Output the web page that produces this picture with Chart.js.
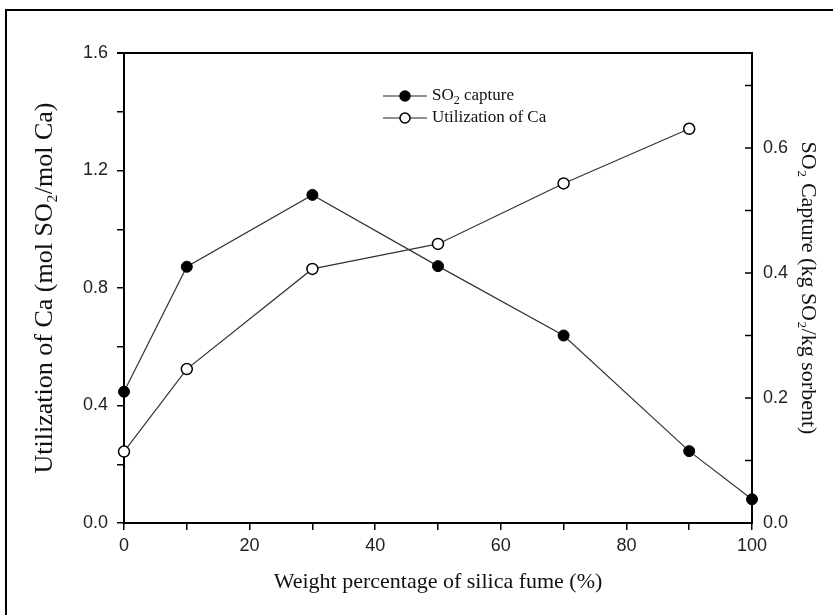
<!DOCTYPE html>
<html>
<head>
<meta charset="utf-8">
<script src="https://cdn.jsdelivr.net/npm/chart.js@4/dist/chart.umd.min.js"></script>
<style>
  html, body { margin: 0; padding: 0; background: #fff; overflow: hidden; }
  #wrap { position: relative; width: 833px; height: 615px; }
  #frame { position: absolute; left: 5px; top: 9px; width: 1000px; height: 1000px; border: 2px solid #000; box-sizing: border-box; pointer-events: none; }
  canvas { position: absolute; left: 0; top: 0; }
</style>
</head>
<body>
<div id="wrap">
  <div id="frame"></div>
  <canvas id="chart" width="833" height="615"></canvas>
</div>
<script>
// silica fume content (%)
const silicaSO2 = [0, 10, 30, 50, 70, 90, 100];
const so2Capture = [0.210, 0.410, 0.525, 0.411, 0.300, 0.115, 0.038]; // kg SO2 / kg sorbent
const silicaCa = [0, 10, 30, 50, 70, 90];
const caUtil = [0.243, 0.524, 0.865, 0.950, 1.156, 1.342]; // mol SO2 / mol Ca

const xTicks = [0, 10, 20, 30, 40, 50, 60, 70, 80, 90, 100];
const yTicks = [0, 0.2, 0.4, 0.6, 0.8, 1.0, 1.2, 1.4, 1.6];
const y2Ticks = [0, 0.1, 0.2, 0.3, 0.4, 0.5, 0.6, 0.7];

const tickFont = { family: "'Liberation Sans', Arial, sans-serif", size: 18 };
const serif = "'Liberation Serif', 'Times New Roman', serif";

const toPoints = (xs, ys) => xs.map((x, i) => ({ x: x, y: ys[i] }));
const setTicks = (arr) => (scale) => { scale.ticks = arr.map((v) => ({ value: v })); };
const isMajor = (v, step) => Math.abs(v / step - Math.round(v / step)) < 1e-6;

// top frame line, inward ticks on the right axis and the legend
const extras = {
  id: 'extras',
  afterDraw(chart) {
    const { ctx, chartArea } = chart;
    const y2 = chart.scales.y2;
    ctx.save();
    ctx.strokeStyle = '#000';
    ctx.lineWidth = 2;
    ctx.beginPath();
    ctx.moveTo(chartArea.left - 7, chartArea.top);
    ctx.lineTo(chartArea.right + 1, chartArea.top);
    ctx.stroke();

    ctx.lineWidth = 1.5;
    y2.ticks.forEach((t) => {
      const py = y2.getPixelForValue(t.value);
      ctx.beginPath();
      ctx.moveTo(chartArea.right - 7, py);
      ctx.lineTo(chartArea.right, py);
      ctx.stroke();
    });

    const rows = [
      { y: 96, fill: '#000', parts: [['SO', 0], ['2', 1], [' capture', 0]] },
      { y: 118, fill: '#fff', parts: [['Utilization of Ca', 0]] }
    ];
    rows.forEach((r) => {
      ctx.strokeStyle = '#222';
      ctx.lineWidth = 1.2;
      ctx.beginPath();
      ctx.moveTo(383, r.y);
      ctx.lineTo(427, r.y);
      ctx.stroke();
      ctx.beginPath();
      ctx.arc(405, r.y, 5, 0, Math.PI * 2);
      ctx.fillStyle = r.fill;
      ctx.fill();
      ctx.lineWidth = 1.5;
      ctx.strokeStyle = '#000';
      ctx.stroke();
      let x = 432;
      ctx.fillStyle = '#111';
      ctx.textBaseline = 'middle';
      r.parts.forEach(([txt, sub]) => {
        ctx.font = (sub ? '12px ' : '17px ') + serif;
        ctx.fillText(txt, x, r.y + (sub ? 5 : 0));
        x += ctx.measureText(txt).width;
      });
    });
    ctx.restore();
  }
};

new Chart(document.getElementById('chart'), {
  type: 'line',
  data: {
    datasets: [
      {
        label: 'SO2 capture',
        data: toPoints(silicaSO2, so2Capture),
        yAxisID: 'y2',
        borderColor: '#333',
        borderWidth: 1.2,
        pointRadius: 5.5,
        pointBackgroundColor: '#000',
        pointBorderColor: '#000',
        pointBorderWidth: 1,
        tension: 0,
        clip: false
      },
      {
        label: 'Utilization of Ca',
        data: toPoints(silicaCa, caUtil),
        yAxisID: 'y',
        borderColor: '#333',
        borderWidth: 1.2,
        pointRadius: 5.5,
        pointBackgroundColor: '#fff',
        pointBorderColor: '#000',
        pointBorderWidth: 1.5,
        tension: 0,
        clip: false
      }
    ]
  },
  options: {
    responsive: false,
    animation: false,
    layout: { padding: { top: 53, left: 0, right: 0, bottom: 0 } },
    plugins: { legend: { display: false }, tooltip: { enabled: false } },
    scales: {
      x: {
        type: 'linear',
        min: 0,
        max: 100,
        afterBuildTicks: setTicks(xTicks),
        afterFit: (s) => { s.height = 92; },
        grid: { drawOnChartArea: false, drawTicks: true, tickLength: 7, color: '#000', lineWidth: 1.5 },
        border: { color: '#000', width: 2 },
        ticks: { font: tickFont, color: '#222', padding: 5, maxRotation: 0, autoSkip: false,
          callback: (v) => (isMajor(v, 20) ? String(v) : '') },
        title: { display: true, text: 'Weight percentage of silica fume (%)', color: '#111',
          font: { family: serif, size: 22 }, padding: { top: 0, bottom: 20 } }
      },
      y: {
        position: 'left',
        min: 0,
        max: 1.6,
        afterBuildTicks: setTicks(yTicks),
        afterFit: (s) => { s.width = 124; },
        grid: { drawOnChartArea: false, drawTicks: true, tickLength: 7, color: '#000', lineWidth: 1.5 },
        border: { color: '#000', width: 2 },
        ticks: { font: tickFont, color: '#222', padding: 9, autoSkip: false,
          callback: (v) => (isMajor(v, 0.4) ? v.toFixed(1) : '') },
        title: { display: true, text: 'Utilization of Ca (mol SO₂/mol Ca)', color: '#111',
          font: { family: serif, size: 26 }, padding: { top: 30, bottom: 0 } }
      },
      y2: {
        position: 'right',
        min: 0,
        max: 0.752,
        afterBuildTicks: setTicks(y2Ticks),
        afterFit: (s) => { s.width = 81; },
        grid: { display: false, drawTicks: false },
        border: { color: '#000', width: 2 },
        ticks: { font: tickFont, color: '#222', padding: 11, autoSkip: false,
          callback: (v) => (isMajor(v, 0.2) ? v.toFixed(1) : '') },
        title: { display: true, text: 'SO₂ Capture (kg SO₂/kg sorbent)', color: '#111',
          font: { family: serif, size: 22 }, padding: { top: 12, bottom: 0 } }
      }
    }
  },
  plugins: [extras]
});
</script>
</body>
</html>
